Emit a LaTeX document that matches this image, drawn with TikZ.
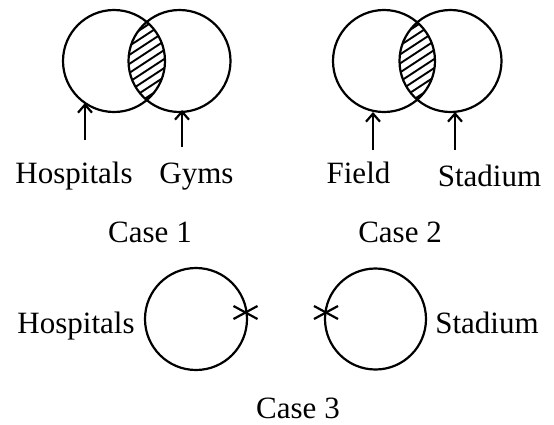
\documentclass[tikz,border=0pt]{standalone}
\usepackage{fontspec}
\setmainfont{Liberation Serif}
\usetikzlibrary{arrows.meta,calc}
\begin{document}
\begin{tikzpicture}[x=1pt,y=-1pt,
  ring/.style={draw,line width=2.2pt},
  lbl/.style={font=\fontsize{31}{31}\selectfont,inner sep=0pt,anchor=base},
  uparrow/.style={line width=2.2pt,-{Straight Barb[length=8pt,width=14pt,line width=2.2pt]}},
  hatch/.style={line width=1.9pt},
  crossline/.style={line width=2.2pt}]
\useasboundingbox (0,0) rectangle (554,424);

% ---------- Case 1 ----------
\coordinate (a1) at (114,61);
\coordinate (b1) at (179.5,61);
\begin{scope}
  \clip (a1) circle (51);
  \clip (b1) circle (51);
  \foreach \k in {-12,...,12}
    \draw[hatch] (120,61+\k*9+18) -- (175,61+\k*9-18);
\end{scope}
\draw[ring] (a1) circle (51);
\draw[ring] (b1) circle (51);
\coordinate (p1s) at (85,140);
\coordinate (p1e) at (85,103);
\coordinate (g1s) at (182,147);
\coordinate (g1e) at (182,110);
\draw[uparrow] (p1s) -- (p1e);
\draw[uparrow] (g1s) -- (g1e);
\node[lbl] (hosp1) at (74,183) {Hospitals};
\node[lbl] (gyms) at (196.5,183) {Gyms};
\node[lbl] (case1) at (150,242) {Case 1};

% ---------- Case 2 ----------
\coordinate (a2) at (384,61);
\coordinate (b2) at (450.5,61);
\begin{scope}
  \clip (a2) circle (51);
  \clip (b2) circle (51);
  \foreach \k in {-12,...,12}
    \draw[hatch] (390,61+\k*9+18) -- (445,61+\k*9-18);
\end{scope}
\draw[ring] (a2) circle (51);
\draw[ring] (b2) circle (51);
\coordinate (f2s) at (373,150);
\coordinate (f2e) at (373,112);
\coordinate (s2s) at (455,150);
\coordinate (s2e) at (455,112);
\draw[uparrow,line width=2.6pt] (f2s) -- (f2e);
\draw[uparrow] (s2s) -- (s2e);
\node[lbl] (field) at (358.5,183) {Field};
\node[lbl] (stad2) at (489.5,186) {Stadium};
\node[lbl] (case2) at (400,242) {Case 2};

% ---------- Case 3 ----------
\coordinate (a3) at (196,319);
\coordinate (b3) at (375.5,319);
\draw[ring] (a3) circle (51);
\draw[ring] (b3) circle (50.5);
\coordinate (x1) at (245.5,312.5);
\coordinate (x2) at (326,312.5);
\draw[crossline] ($(x1)+(-12,-6.5)$) -- ($(x1)+(12,6.5)$);
\draw[crossline] ($(x1)+(-12,6.5)$) -- ($(x1)+(12,-6.5)$);
\draw[crossline] ($(x2)+(-12,-6.5)$) -- ($(x2)+(12,6.5)$);
\draw[crossline] ($(x2)+(-12,6.5)$) -- ($(x2)+(12,-6.5)$);
\node[lbl] (hosp3) at (76,333) {Hospitals};
\node[lbl] (stad3) at (487,333) {Stadium};
\node[lbl] (case3) at (298,418) {Case 3};
\end{tikzpicture}
\end{document}
